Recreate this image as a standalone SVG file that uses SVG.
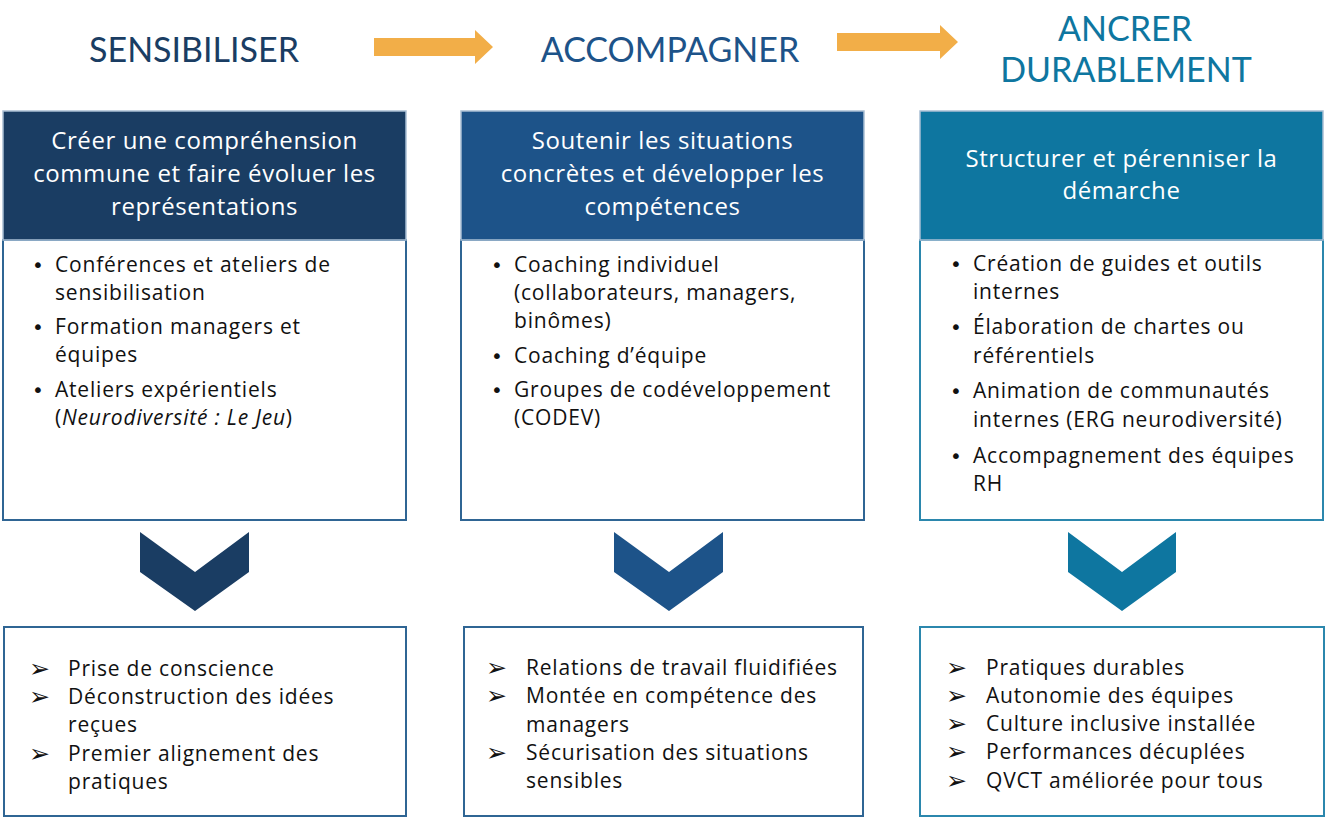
<svg xmlns="http://www.w3.org/2000/svg" width="1332" height="820" viewBox="0 0 1332 820">
<style>
.ttl{font-family:Lato,"Noto Sans",sans-serif;font-size:34px;text-anchor:middle}
.hd{font-family:"Open Sans","Noto Sans",sans-serif;font-size:24px;letter-spacing:0.6px;fill:#fff;text-anchor:middle}
.bd{font-family:"Open Sans","Noto Sans",sans-serif;font-size:21px;letter-spacing:0.8px;fill:#111}
.bul{font-family:"DejaVu Sans",sans-serif;font-size:20px;fill:#111}
.arr{font-family:"DejaVu Sans",sans-serif;font-size:25px;fill:#111}
.hbox{stroke:#a9bfd4;stroke-width:1.5}
.body{fill:#fff;stroke-width:2}
.orange{fill:#f2ae48}
</style>
<rect width="1332" height="820" fill="#fff"/>
<g id="titles">
<text class="ttl" x="194" y="62" fill="#1a3d63">SENSIBILISER</text>
<text class="ttl" x="670" y="62" fill="#1d5389">ACCOMPAGNER</text>
<text class="ttl" x="1125" y="41" fill="#0e76a0">ANCRER</text>
<text class="ttl" x="1126" y="82" fill="#0e76a0">DURABLEMENT</text>
</g>
<g id="connectors">
<polygon class="orange" points="374,38 475,38 475,30 493,47 475,64 475,56 374,56"/>
<polygon class="orange" points="837,33 940,33 940,25 958,42 940,59 940,51 837,51"/>
<polygon fill="#1a3d63" points="140,532 195,572 249,532 249,572 195,611 140,572"/>
<polygon fill="#1d5389" points="614,532 669,572 723,532 723,572 669,611 614,572"/>
<polygon fill="#0e76a0" points="1068,532 1122,572 1176,532 1176,572 1122,611 1068,572"/>
</g>
<g id="col1">
<rect class="body" x="3" y="240" width="403" height="280" stroke="#2f6594"/>
<rect class="hbox" x="3" y="111" width="403" height="129" fill="#1a3d63"/>
<text class="hd" x="204.5" y="149">Créer une compréhension</text>
<text class="hd" x="204.5" y="182">commune et faire évoluer les</text>
<text class="hd" x="204.5" y="215">représentations</text>
<text class="bul" x="32" y="272">•</text>
<text class="bd" x="55" y="272">Conférences et ateliers de</text>
<text class="bd" x="55" y="300">sensibilisation</text>
<text class="bul" x="32" y="334">•</text>
<text class="bd" x="55" y="334">Formation managers et</text>
<text class="bd" x="55" y="362">équipes</text>
<text class="bul" x="32" y="397">•</text>
<text class="bd" x="55" y="397">Ateliers expérientiels</text>
<text class="bd" x="55" y="425">(<tspan font-style="italic">Neurodiversité : Le Jeu</tspan>)</text>
</g>
<g id="col2">
<rect class="body" x="461" y="240" width="403" height="280" stroke="#2f6594"/>
<rect class="hbox" x="461" y="111" width="403" height="129" fill="#1d5389"/>
<text class="hd" x="662.5" y="149">Soutenir les situations</text>
<text class="hd" x="662.5" y="182">concrètes et développer les</text>
<text class="hd" x="662.5" y="215">compétences</text>
<text class="bul" x="491" y="272">•</text>
<text class="bd" x="514" y="272">Coaching individuel</text>
<text class="bd" x="514" y="300">(collaborateurs, managers,</text>
<text class="bd" x="514" y="328">binômes)</text>
<text class="bul" x="491" y="363">•</text>
<text class="bd" x="514" y="363">Coaching d’équipe</text>
<text class="bul" x="491" y="397">•</text>
<text class="bd" x="514" y="397">Groupes de codéveloppement</text>
<text class="bd" x="514" y="425">(CODEV)</text>
</g>
<g id="col3">
<rect class="body" x="920" y="240" width="403" height="280" stroke="#2b87ad"/>
<rect class="hbox" x="920" y="111" width="403" height="129" fill="#0e76a0"/>
<text class="hd" x="1121.5" y="167">Structurer et pérenniser la</text>
<text class="hd" x="1121.5" y="199">démarche</text>
<text class="bul" x="950" y="271">•</text>
<text class="bd" x="973" y="271">Création de guides et outils</text>
<text class="bd" x="973" y="299">internes</text>
<text class="bul" x="950" y="334">•</text>
<text class="bd" x="973" y="334">Élaboration de chartes ou</text>
<text class="bd" x="973" y="363">référentiels</text>
<text class="bul" x="950" y="398">•</text>
<text class="bd" x="973" y="398">Animation de communautés</text>
<text class="bd" x="973" y="427">internes (ERG neurodiversité)</text>
<text class="bul" x="950" y="463">•</text>
<text class="bd" x="973" y="463">Accompagnement des équipes</text>
<text class="bd" x="973" y="491">RH</text>
</g>
<g id="res1">
<rect class="body" x="4" y="627" width="402" height="189" stroke="#2f6594"/>
<text class="arr" x="29" y="677">➢</text>
<text class="bd" x="68" y="676">Prise de conscience</text>
<text class="arr" x="29" y="705">➢</text>
<text class="bd" x="68" y="704">Déconstruction des idées</text>
<text class="bd" x="68" y="732">reçues</text>
<text class="arr" x="29" y="762">➢</text>
<text class="bd" x="68" y="761">Premier alignement des</text>
<text class="bd" x="68" y="789">pratiques</text>
</g>
<g id="res2">
<rect class="body" x="464" y="627" width="399" height="189" stroke="#2f6594"/>
<text class="arr" x="486" y="676">➢</text>
<text class="bd" x="526" y="675">Relations de travail fluidifiées</text>
<text class="arr" x="486" y="704">➢</text>
<text class="bd" x="526" y="703">Montée en compétence des</text>
<text class="bd" x="526" y="732">managers</text>
<text class="arr" x="486" y="761">➢</text>
<text class="bd" x="526" y="760">Sécurisation des situations</text>
<text class="bd" x="526" y="788">sensibles</text>
</g>
<g id="res3">
<rect class="body" x="920" y="627" width="404" height="189" stroke="#2b87ad"/>
<text class="arr" x="946" y="676">➢</text>
<text class="bd" x="986" y="675">Pratiques durables</text>
<text class="arr" x="946" y="704">➢</text>
<text class="bd" x="986" y="703">Autonomie des équipes</text>
<text class="arr" x="946" y="732">➢</text>
<text class="bd" x="986" y="731">Culture inclusive installée</text>
<text class="arr" x="946" y="760">➢</text>
<text class="bd" x="986" y="759">Performances décuplées</text>
<text class="arr" x="946" y="789">➢</text>
<text class="bd" x="986" y="788">QVCT améliorée pour tous</text>
</g>
</svg>
